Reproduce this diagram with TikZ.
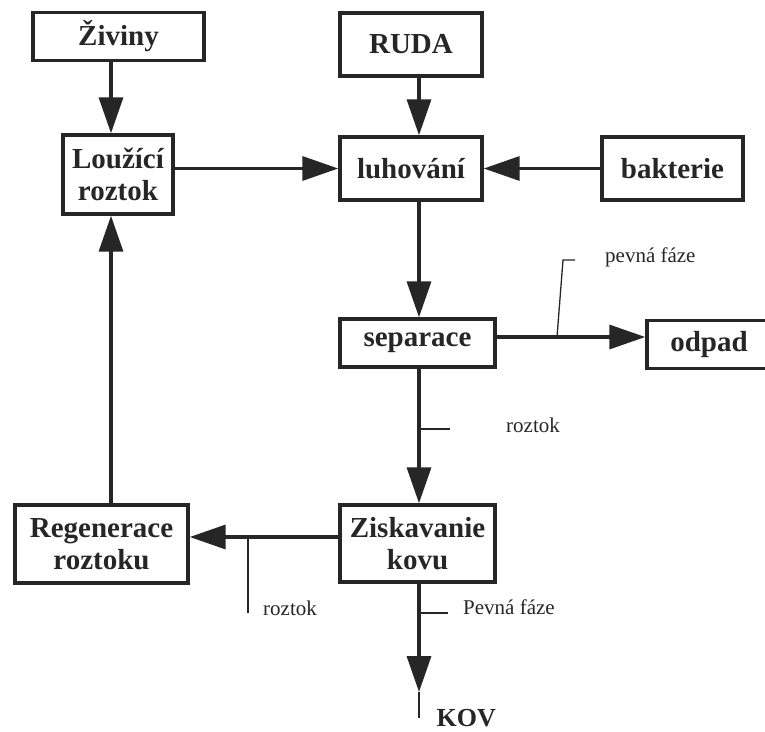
\documentclass[tikz,border=0pt]{standalone}
\usepackage{fontspec}
\setmainfont{Liberation Serif}
\usepackage{xcolor}
\definecolor{inkoust}{HTML}{262626}
\usetikzlibrary{arrows.meta,positioning,calc}

\begin{document}
\begin{tikzpicture}[x=1pt, y=-1pt,
    blok/.style={draw=inkoust, line width=3.4pt, inner sep=0pt, align=center, text=inkoust,
      font=\fontsize{29}{32}\selectfont\bfseries},
    tok/.style={draw=inkoust, line width=3.4pt, -{Triangle[length=36pt,width=24pt]}},
    vodic/.style={draw=inkoust, line width=1.3pt},
    popis/.style={font=\fontsize{21}{24}\selectfont, text=inkoust, anchor=west, inner sep=0pt}]
  \useasboundingbox (0,0) rectangle (765,731);
  % osy sipek
  \coordinate (osaL) at (111,0);
  \coordinate (osaP) at (419,0);
  \coordinate (hSep) at (0,337);
  \coordinate (hZis) at (0,537);

  % bloky
  \node[blok, minimum width=171pt, minimum height=48pt] (ziviny) at (118.5,36.5) {Živiny};
  \node[blok, minimum width=110pt, minimum height=79pt] (louzici) at (118,174.5) {Loužící\\roztok};
  \node[blok, minimum width=142pt, minimum height=63pt] (ruda) at (411,44.5) {RUDA};
  \node[blok, minimum width=142pt, minimum height=63pt] (luhovani) at (411,168.5) {luhování};
  \node[blok, minimum width=141pt, minimum height=63pt] (bakterie) at (672.5,168.5) {bakterie};
  \node[blok, minimum width=155pt, minimum height=48pt] (separace) at (417.5,343) {separace};
  \node[blok, minimum width=124pt, minimum height=48pt] (odpad) at (709,344.5) {odpad};
  \node[blok, minimum width=155pt, minimum height=77pt] (ziskavani) at (417.5,543.5) {Ziskavanie\\kovu};
  \node[blok, minimum width=173pt, minimum height=78pt] (regenerace) at (101.5,544) {Regenerace\\roztoku};
  \node[blok, draw=none, font=\fontsize{26}{28}\selectfont\bfseries, anchor=west] (kov) at (435,718) {KOV};

  % toky
  \draw[tok] (ziviny.south -| osaL) -- (louzici.north -| osaL);
  \draw[tok] (regenerace.north -| osaL) -- (louzici.south -| osaL);
  \draw[tok] (louzici.east |- luhovani) -- (luhovani.west);
  \draw[tok] (ruda.south -| osaP) -- (luhovani.north -| osaP);
  \draw[tok] (bakterie.west) -- (luhovani.east);
  \draw[tok] (luhovani.south -| osaP) -- (separace.north -| osaP);
  \draw[tok] (separace.east |- hSep) -- (odpad.west |- hSep);
  \draw[tok] (separace.south -| osaP) -- (ziskavani.north -| osaP);
  \draw[tok] (ziskavani.west |- hZis) -- (regenerace.east |- hZis);
  \coordinate (kovHrot) at (419,692);
  \draw[tok] (ziskavani.south -| osaP) -- (kovHrot);
  \draw[vodic] (kovHrot) -- (kov.west -| osaP);

  % popisy s vodici
  \node[popis] (pfSep) at (605,257) {pevná fáze};
  \draw[vodic] (557,337) -- (563,260) -- (575,260);
  \node[popis] (rzSep) at (506,425) {roztok};
  \draw[vodic] (419,429) -- (450,429);
  \node[popis] (rzZis) at (263,608) {roztok};
  \draw[vodic] (248,537) -- (248,613);
  \node[popis] (pfZis) at (463,607) {Pevná fáze};
  \draw[vodic] (419,613) -- (448,613);
\end{tikzpicture}
\end{document}
